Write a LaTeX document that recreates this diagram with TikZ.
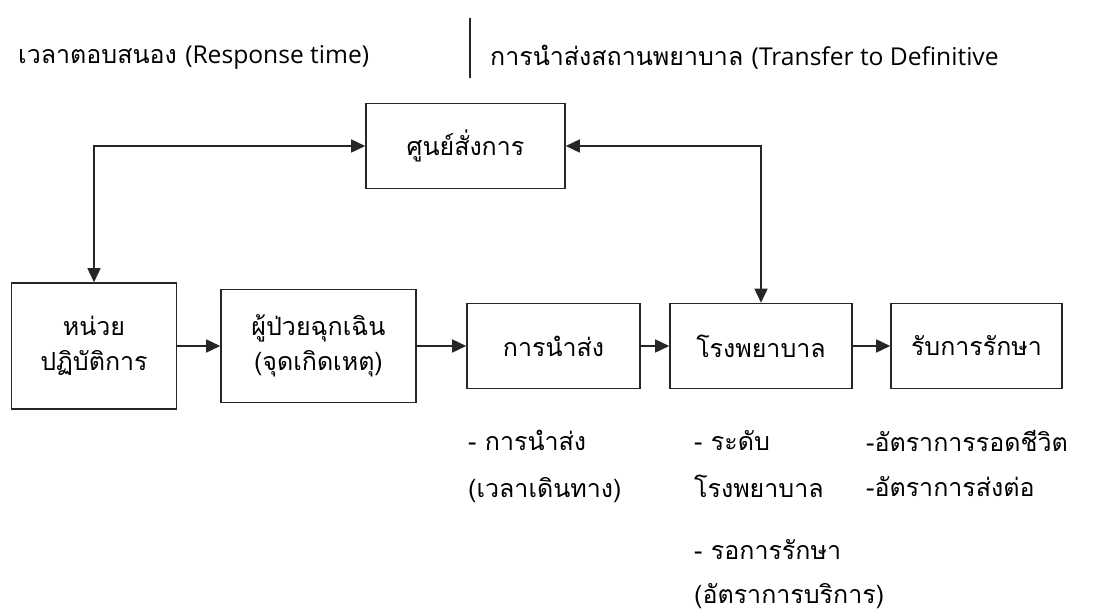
\documentclass[tikz,border=0pt]{standalone}
\usepackage{fontspec}
\setmainfont[Script=Thai]{Loma}
\newfontfamily\latinfont{Open Sans}
\usepackage{tikz}
\usetikzlibrary{arrows.meta,positioning}

\begin{document}
\begin{tikzpicture}[
  x=1pt, y=-1pt,
  box/.style={draw=black!85, line width=1.6pt, align=center, inner sep=2pt, font=\fontsize{25}{35}\selectfont},
  note/.style={anchor=north west, align=left, inner sep=0pt, font=\fontsize{25}{47}\selectfont},
  arr/.style={-{Triangle[length=14pt,width=13pt]}, line width=1.6pt, draw=black!85},
  arr2/.style={{Triangle[length=14pt,width=13pt]}-{Triangle[length=14pt,width=13pt]}, line width=1.6pt, draw=black!85}
]
\useasboundingbox (0,0) rectangle (1115,612);

% header
\node[anchor=west, inner sep=0pt, font=\fontsize{25}{30}\selectfont] (resp) at (18,57) {เวลาตอบสนอง {\latinfont\fontsize{24.6}{30}\selectfont (Response time)}};
\node[anchor=west, inner sep=0pt, font=\fontsize{25}{30}\selectfont] (trans) at (490,57) {การนำส่งสถานพยาบาล {\latinfont\fontsize{24.6}{30}\selectfont (Transfer to Definitive}};
\draw[line width=1.6pt, black!85] (470,18) -- (470,78);

% boxes
\node[box, minimum width=199pt, minimum height=85pt] (cmd) at (465.5,146) {ศูนย์สั่งการ};
\node[box, minimum width=165pt, minimum height=126pt] (unit) at (94,346) {หน่วย\\ปฏิบัติการ};
\node[box, minimum width=195pt, minimum height=113pt] (patient) at (318.5,346) {ผู้ป่วยฉุกเฉิน\\(จุดเกิดเหตุ)};
\node[box, minimum width=173pt, minimum height=85pt] (transfer) at (553.5,346) {การนำส่ง};
\node[box, minimum width=182pt, minimum height=85pt] (hosp) at (761,346) {โรงพยาบาล};
\node[box, minimum width=171pt, minimum height=85pt] (treat) at (976.5,346) {รับการรักษา};

% notes under the boxes
\node[note] (transnote) at (468,430) {- การนำส่ง\\(เวลาเดินทาง)};
\node[note] (hospnote) at (694,430) {- ระดับ\\โรงพยาบาล};
\node[note, font=\fontsize{25}{44}\selectfont] (waitnote) at (694,539) {- รอการรักษา\\(อัตราการบริการ)};
\node[note, font=\fontsize{25}{45}\selectfont] (outnote) at (866,430) {-อัตราการรอดชีวิต\\-อัตราการส่งต่อ};

% connectors
\draw[arr2] (unit.north) |- (cmd.west);
\draw[arr2] (cmd.east) -| (hosp.north);
\draw[arr] (unit) -- (patient);
\draw[arr] (patient) -- (transfer);
\draw[arr] (transfer) -- (hosp);
\draw[arr] (hosp) -- (treat);
\end{tikzpicture}
\end{document}
